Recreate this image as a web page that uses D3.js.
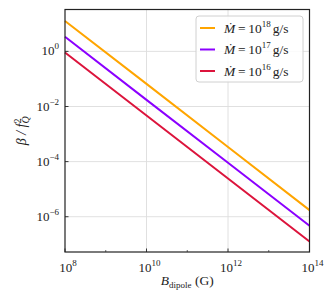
<!DOCTYPE html>
<html>
<head>
<meta charset="utf-8">
<script src="https://cdn.jsdelivr.net/npm/d3@7"></script>
<style>
  body { margin: 0; background: #fff; }
  text { font-family: "Liberation Serif", "DejaVu Serif", serif; fill: #222; }
</style>
</head>
<body>
<script>
// data
var bField = [1e8, 1e10, 1e12, 1e14];
var beta18 = [12.6, 0.066, 3.4e-4, 1.74e-6];
var beta17 = [3.4, 0.0174, 9.1e-5, 4.7e-7];
var beta16 = [0.91, 0.0047, 2.45e-5, 1.26e-7];
var seriesNames = ["18", "17", "16"];
var seriesColors = ["#FFA500", "#8B00FF", "#DC143C"];
var xTicks = [1e8, 1e10, 1e12, 1e14];
var xMinor = [1e9, 1e11, 1e13];
var yTicks = [1e0, 1e-2, 1e-4, 1e-6];

var w = 332, h = 300;
var margin = {top: 9.5, right: 22.5, bottom: 48, left: 65};
var width = w - margin.left - margin.right,
    height = h - margin.top - margin.bottom;

var svg = d3.select("body").append("svg")
    .attr("width", w)
    .attr("height", h)
  .append("g")
    .attr("transform", "translate(" + margin.left + "," + margin.top + ")");

var xScale = d3.scaleLog().domain([1e8, 1e14]).range([0, width]);
var yScale = d3.scaleLog().domain([Math.pow(10, -7.28), Math.pow(10, 1.52)]).range([height, 0]);

// grid
svg.append("g").selectAll("line")
    .data(xTicks.slice(1, -1))
  .enter().append("line")
    .attr("x1", function(d) { return xScale(d); })
    .attr("x2", function(d) { return xScale(d); })
    .attr("y1", 0).attr("y2", height)
    .attr("stroke", "#dcdcdc").attr("stroke-width", 0.9);
svg.append("g").selectAll("line")
    .data(yTicks)
  .enter().append("line")
    .attr("y1", function(d) { return yScale(d); })
    .attr("y2", function(d) { return yScale(d); })
    .attr("x1", 0).attr("x2", width)
    .attr("stroke", "#dcdcdc").attr("stroke-width", 0.9);

// lines
var line = d3.line()
    .x(function(d, i) { return xScale(bField[i]); })
    .y(function(d) { return yScale(d); });

[beta18, beta17, beta16].forEach(function(s, k) {
  svg.append("path")
      .attr("d", line(s))
      .attr("fill", "none")
      .attr("stroke", seriesColors[k])
      .attr("stroke-width", 2);
});

// ticks (inward)
var xAxis = svg.append("g").attr("transform", "translate(0," + height + ")");
xAxis.selectAll("line.maj").data(xTicks).enter().append("line")
    .attr("x1", function(d) { return xScale(d); })
    .attr("x2", function(d) { return xScale(d); })
    .attr("y1", 0).attr("y2", -3.5)
    .attr("stroke", "#222").attr("stroke-width", 0.9);
xAxis.selectAll("line.min").data(xMinor).enter().append("line")
    .attr("x1", function(d) { return xScale(d); })
    .attr("x2", function(d) { return xScale(d); })
    .attr("y1", 0).attr("y2", -2)
    .attr("stroke", "#222").attr("stroke-width", 0.7);

function powLabel(sel, d) {
  var e = Math.round(Math.log10(d));
  sel.append("tspan").text("10");
  sel.append("tspan").attr("dy", -6).attr("font-size", "9px").text(e < 0 ? "\u2212" + (-e) : e);
}

xAxis.selectAll("text").data(xTicks).enter().append("text")
    .attr("x", function(d) { return xScale(d) + 3; })
    .attr("y", 20)
    .attr("text-anchor", "middle")
    .attr("font-size", "13px")
    .each(function(d) { powLabel(d3.select(this), d); });

var yAxis = svg.append("g");
yAxis.selectAll("line").data(yTicks).enter().append("line")
    .attr("y1", function(d) { return yScale(d); })
    .attr("y2", function(d) { return yScale(d); })
    .attr("x1", 0).attr("x2", 3.5)
    .attr("stroke", "#222").attr("stroke-width", 0.9);
yAxis.selectAll("text").data(yTicks).enter().append("text")
    .attr("x", -6)
    .attr("y", function(d) { return yScale(d) + 4; })
    .attr("text-anchor", "end")
    .attr("font-size", "13px")
    .each(function(d) { powLabel(d3.select(this), d); });

// frame
svg.append("rect")
    .attr("width", width).attr("height", height)
    .attr("fill", "none").attr("stroke", "#222").attr("stroke-width", 1.2);

// axis labels
var xl = svg.append("text")
    .attr("x", width / 2).attr("y", height + 33)
    .attr("text-anchor", "middle")
    .attr("font-size", "13.5px");
xl.append("tspan").attr("font-style", "italic").text("B");
xl.append("tspan").attr("dy", 3).attr("font-size", "9px").text("dipole");
xl.append("tspan").attr("dy", -3).text(" (G)");

var yl = svg.append("text")
    .attr("transform", "translate(-39," + (height / 2) + ") rotate(-90)")
    .attr("text-anchor", "middle")
    .attr("font-size", "14px");
yl.append("tspan").attr("font-style", "italic").text("\u03B2 / f");
yl.append("tspan").attr("dy", -5).attr("font-size", "10px").text("2");
yl.append("tspan").attr("dx", -5).attr("dy", 8).attr("font-size", "10px").attr("font-style", "italic").text("Q\u0307");

// legend
var legend = svg.append("g").attr("transform", "translate(" + (196 - margin.left) + "," + (16 - margin.top) + ")");
legend.append("rect")
    .attr("width", 107).attr("height", 66)
    .attr("rx", 3)
    .attr("fill", "#fff").attr("fill-opacity", 0.85)
    .attr("stroke", "#d0d0d0").attr("stroke-width", 1);

var entry = legend.selectAll("g.entry").data(seriesNames).enter().append("g")
    .attr("class", "entry")
    .attr("transform", function(d, i) { return "translate(0," + (12 + i * 21.5) + ")"; });
entry.append("line")
    .attr("x1", 4).attr("x2", 19)
    .attr("stroke", function(d, i) { return seriesColors[i]; })
    .attr("stroke-width", 2);
var lt = entry.append("text")
    .attr("x", 28).attr("y", 4.5)
    .attr("font-size", "13.5px");
lt.append("tspan").attr("font-style", "italic").text("\u1E40");
lt.append("tspan").attr("xml:space", "preserve").text("\u2009=\u200910");
lt.append("tspan").attr("dy", -6).attr("font-size", "9px").text(function(d) { return d; });
lt.append("tspan").attr("dy", 6).attr("dx", 2).text("g/s");
</script>
</body>
</html>
